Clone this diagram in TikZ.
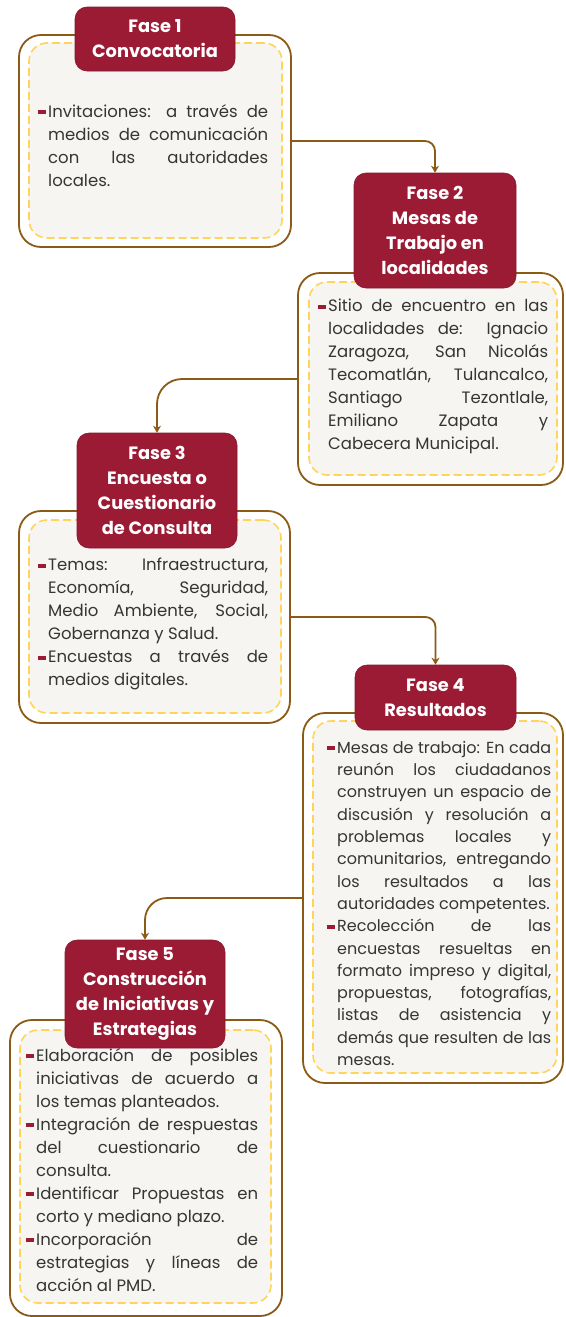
\documentclass[tikz,border=0pt]{standalone}
\usepackage{fontspec}
\setmainfont{Poppins}
\usetikzlibrary{arrows.meta,positioning}

\definecolor{vino}{HTML}{9B1B35}
\definecolor{cafe}{HTML}{8B5A14}
\definecolor{amarillo}{HTML}{FFD458}
\definecolor{crema}{HTML}{F6F5F1}
\definecolor{gristexto}{HTML}{353535}

% small bar in front of every item
\newcommand{\vineta}{\noindent\llap{\textcolor{vino}{\rule[3pt]{8pt}{4pt}}\hspace{2.5pt}}}
\newcommand{\sincorte}{\hyphenpenalty=10000\relax\tolerance=10000\relax}

\begin{document}
\begin{tikzpicture}[x=1pt,y=-1pt,
	cajanode/.style={rectangle,draw=cafe,line width=1.8pt,fill=white,rounded corners=22pt},
	guionnode/.style={rectangle,draw=amarillo,line width=1.6pt,dash pattern=on 8pt off 4pt,fill=crema,rounded corners=18pt},
	titulonode/.style={rectangle,draw=vino!85!black,line width=0.6pt,fill=vino,rounded corners=12pt,text=white,align=center,font=\bfseries\fontsize{17.8}{25}\selectfont,inner sep=0pt},
	textonode/.style={anchor=north west,inner sep=0pt,text=gristexto,align=justify,font=\fontsize{16.5}{23}\selectfont\sincorte},
	flecha/.style={draw=cafe,line width=1.8pt,-{Stealth[length=7pt,width=8pt]}}]
	
	\useasboundingbox (0,0) rectangle (565,1317);
	
	% Fase 1
	\node [cajanode, minimum width=272pt, minimum height=212pt] (o1) at (155, 141) {};
	\node [guionnode, minimum width=253pt, minimum height=195pt] (d1) at (155.5, 140.5) {};
	\node [titulonode, minimum width=160pt, minimum height=64pt] (t1) at (155, 39) {Fase 1\\Convocatoria};
	\node [textonode, text width=220pt] (x1) at (48, 104) {\vineta Invitaciones: a través de\linebreak medios de comunicación\linebreak con las autoridades\linebreak locales.};
	
	% Fase 2
	\node [cajanode, minimum width=265pt, minimum height=212pt] (o2) at (430.5, 379) {};
	\node [guionnode, minimum width=248pt, minimum height=193pt] (d2) at (433, 378.5) {};
	\node [titulonode, minimum width=162pt, minimum height=115pt] (t2) at (435, 230.5) {Fase 2\\Mesas de\\Trabajo en\\localidades};
	\node [textonode, text width=220pt] (x2) at (328, 299) {\vineta Sitio de encuentro en las\linebreak localidades de: Ignacio\linebreak Zaragoza, San Nicolás\linebreak Tecomatlán, Tulancalco,\linebreak Santiago Tezontlale,\linebreak Emiliano Zapata y\linebreak Cabecera Municipal.};
	
	% Fase 3
	\node [cajanode, minimum width=271pt, minimum height=212pt] (o3) at (154.5, 617) {};
	\node [guionnode, minimum width=252pt, minimum height=193pt] (d3) at (155, 616.5) {};
	\node [titulonode, minimum width=160pt, minimum height=115pt] (t3) at (157, 490.5) {Fase 3\\Encuesta o\\Cuestionario\\de Consulta};
	\node [textonode, text width=220pt] (x3) at (48, 558) {\vineta Temas: Infraestructura,\linebreak Economía, Seguridad,\linebreak Medio Ambiente, Social,\linebreak Gobernanza y Salud.\par
		\vineta Encuestas a través de\linebreak medios digitales.};
	
	% Fase 4
	\node [cajanode, minimum width=260pt, minimum height=370pt] (o4) at (433, 898) {};
	\node [guionnode, minimum width=244pt, minimum height=352pt] (d4) at (435, 897) {};
	\node [titulonode, minimum width=161pt, minimum height=65pt] (t4) at (435.5, 697.5) {Fase 4\\Resultados};
	\node [textonode, text width=214pt, font=\fontsize{16}{22.3}\selectfont\sincorte] (x4) at (337, 741) {\vineta Mesas de trabajo: En cada\linebreak reunón los ciudadanos\linebreak construyen un espacio de\linebreak discusión y resolución a\linebreak problemas locales y\linebreak comunitarios, entregando\linebreak los resultados a las\linebreak autoridades competentes.\par
		\vineta Recolección de las\linebreak encuestas resueltas en\linebreak formato impreso y digital,\linebreak propuestas, fotografías,\linebreak listas de asistencia y\linebreak demás que resulten de las\linebreak mesas.};
	
	% Fase 5
	\node [cajanode, minimum width=272pt, minimum height=296pt] (o5) at (146, 1168) {};
	\node [guionnode, minimum width=251pt, minimum height=273pt] (d5) at (145.5, 1166.5) {};
	\node [titulonode, minimum width=160pt, minimum height=108pt] (t5) at (145, 994) {Fase 5\\Construcción\\de Iniciativas y\\Estrategias};
	\node [textonode, text width=222pt] (x5) at (36, 1048) {\vineta Elaboración de posibles\linebreak iniciativas de acuerdo a\linebreak los temas planteados.\par
		\vineta Integración de respuestas\linebreak del cuestionario de\linebreak consulta.\par
		\vineta Identificar Propuestas en\linebreak corto y mediano plazo.\par
		\vineta Incorporación de\linebreak estrategias y líneas de\linebreak acción al PMD.};
	
	\draw [flecha, rounded corners=10pt] (o1.east) -| (t2.north);
	\draw [flecha, rounded corners=25pt] (o2.west) -| (t3.north);
	\draw [flecha, rounded corners=10pt] (o3.east) -| (t4.north);
	\draw [flecha, rounded corners=22pt] (o4.west) -| (t5.north);
\end{tikzpicture}
\end{document}
